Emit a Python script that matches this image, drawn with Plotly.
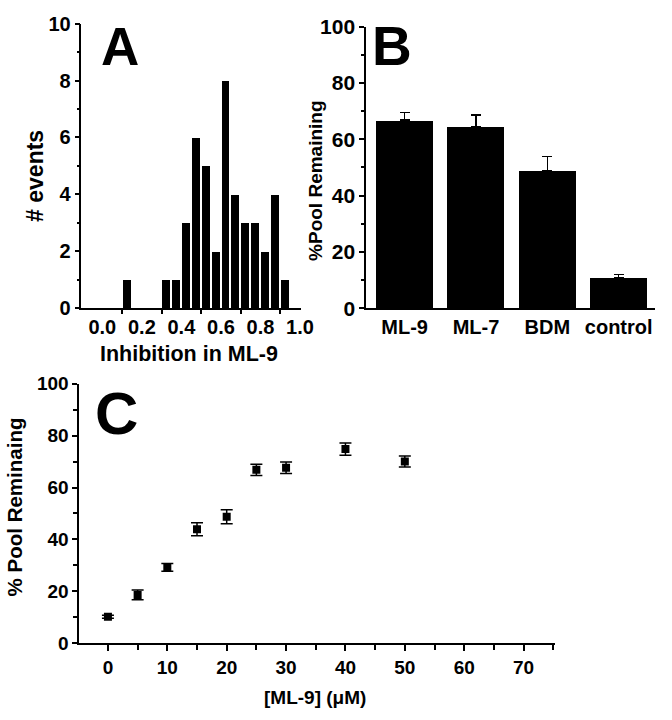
import plotly.graph_objects as go

# ---------------- Data ----------------
# Panel A: histogram of inhibition in ML-9 (bin centers, bin width 0.05)
a_bin_centers = [0.125, 0.325, 0.375, 0.425, 0.475, 0.525, 0.575, 0.625,
                 0.675, 0.725, 0.775, 0.825, 0.875, 0.925]
a_counts = [1, 1, 1, 3, 6, 5, 2, 8, 4, 3, 3, 2, 4, 1]
a_xtick_vals = [0.0, 0.2, 0.4, 0.6, 0.8, 1.0]
a_xtick_text = ["0.0", "0.2", "0.4", "0.6", "0.8", "1.0"]

# Panel B: % pool remaining by treatment
b_categories = ["ML-9", "ML-7", "BDM", "control"]
b_values = [66.8, 64.6, 48.9, 11.0]
b_errors = [2.6, 4.0, 5.0, 0.9]

# Panel C: dose response
c_conc = [0, 5, 10, 15, 20, 25, 30, 40, 50]
c_values = [10.2, 18.6, 29.2, 43.9, 48.7, 66.8, 67.6, 74.8, 70.0]
c_errors = [0.6, 1.9, 1.5, 2.5, 2.7, 2.2, 2.2, 2.4, 2.1]

W, H = 672, 720
FONT = "Liberation Sans, Arial, Helvetica, sans-serif"


def px(x):
    return x / W


def py(y):
    return 1 - y / H


fig = go.Figure()

fig.add_trace(go.Bar(
    x=a_bin_centers, y=a_counts, width=0.04,
    marker=dict(color="black", line=dict(width=0)),
    xaxis="x", yaxis="y", showlegend=False,
))

fig.add_trace(go.Bar(
    x=b_categories, y=b_values, width=0.8,
    marker=dict(color="black", line=dict(width=0)),
    error_y=dict(type="data", symmetric=False, array=b_errors,
                 arrayminus=[0] * len(b_errors), color="black",
                 thickness=1.2, width=5),
    xaxis="x2", yaxis="y2", showlegend=False,
))

fig.add_trace(go.Scatter(
    x=c_conc, y=c_values, mode="markers",
    marker=dict(symbol="square", size=8, color="black"),
    error_y=dict(type="data", array=c_errors, color="black",
                 thickness=1.5, width=6),
    xaxis="x3", yaxis="y3", showlegend=False,
))

axis_common = dict(
    showline=True, linecolor="black", linewidth=1.5,
    showgrid=False, zeroline=False,
    ticks="outside", tickcolor="black", tickwidth=1.5, ticklen=5,
    tickfont=dict(family=FONT, size=20, color="black", weight="bold"),
)

fig.update_layout(
    xaxis=dict(
        axis_common, domain=[px(83), px(306.7)], range=[-0.106, 1.004],
        anchor="y", tickmode="array", tickvals=a_xtick_vals,
        ticktext=a_xtick_text, ticks="",
        minor=dict(tickvals=[0.1, 0.3, 0.5, 0.7, 0.9], ticks="outside",
                   ticklen=4, tickcolor="black", tickwidth=1.5),
    ),
    yaxis=dict(
        axis_common, domain=[py(306), py(12)], range=[0, 10],
        anchor="x", tickmode="linear", tick0=0, dtick=2,
        minor=dict(tick0=1, dtick=2, ticks="outside", ticklen=3,
                   tickcolor="black", tickwidth=1.5),
    ),
    xaxis2=dict(
        axis_common, domain=[px(373.3), px(668)], range=[-0.54, 3.51],
        anchor="y2", type="category", ticks="",
        tickfont=dict(family=FONT, size=20, color="black", weight="bold"),
    ),
    yaxis2=dict(
        axis_common, domain=[py(306), py(15)], range=[0, 100],
        anchor="x2", tickmode="linear", tick0=0, dtick=20,
        tickfont=dict(family=FONT, size=21, color="black", weight="bold"),
        minor=dict(tick0=10, dtick=20, ticks="outside", ticklen=3,
                   tickcolor="black", tickwidth=1.5),
    ),
    xaxis3=dict(
        axis_common, domain=[px(80.7), px(566)], range=[-4.85, 75.3],
        anchor="y3", tickmode="linear", tick0=0, dtick=10, ticklen=6,
        tickfont=dict(family=FONT, size=19, color="black", weight="bold"),
        minor=dict(tick0=5, dtick=10, ticks="outside", ticklen=5,
                   tickcolor="black", tickwidth=1.5),
    ),
    yaxis3=dict(
        axis_common, domain=[py(652), py(384)], range=[0, 100],
        anchor="x3", tickmode="linear", tick0=0, dtick=20,
        tickfont=dict(family=FONT, size=19, color="black", weight="bold"),
        minor=dict(tick0=10, dtick=20, ticks="outside", ticklen=4,
                   tickcolor="black", tickwidth=1.5),
    ),
)


def ann(text, x, y, size, angle=0, bold=True):
    return dict(
        text=text, x=px(x), y=py(y), xref="paper", yref="paper",
        showarrow=False, textangle=angle, xanchor="center", yanchor="middle",
        font=dict(family=FONT, size=size, color="black",
                  weight="bold" if bold else "normal"),
    )


annotations = [
    ann("# events", 35, 169, 23, -90),
    ann("Inhibition in ML-9", 193, 353, 21.5),
    ann("%Pool Remaining", 321.7, 174, 19, -90),
    ann("% Pool Reminaing", 15, 511, 20.5, -90),
    ann("[ML-9] (μM)", 321.7, 708, 19),
    ann("A", 122, 36, 53),
    ann("B", 399.5, 35, 55),
    ann("C", 119, 415, 60),
]

fig.update_layout(
    width=W, height=H,
    margin=dict(l=0, r=0, t=0, b=0),
    paper_bgcolor="white", plot_bgcolor="white",
    bargap=0, showlegend=False,
    annotations=annotations,
    font=dict(family=FONT, color="black"),
)

fig.write_html(
    "out.html",
    config={"displayModeBar": False},
    post_script="document.body.style.margin='0';document.body.style.padding='0';",
)
